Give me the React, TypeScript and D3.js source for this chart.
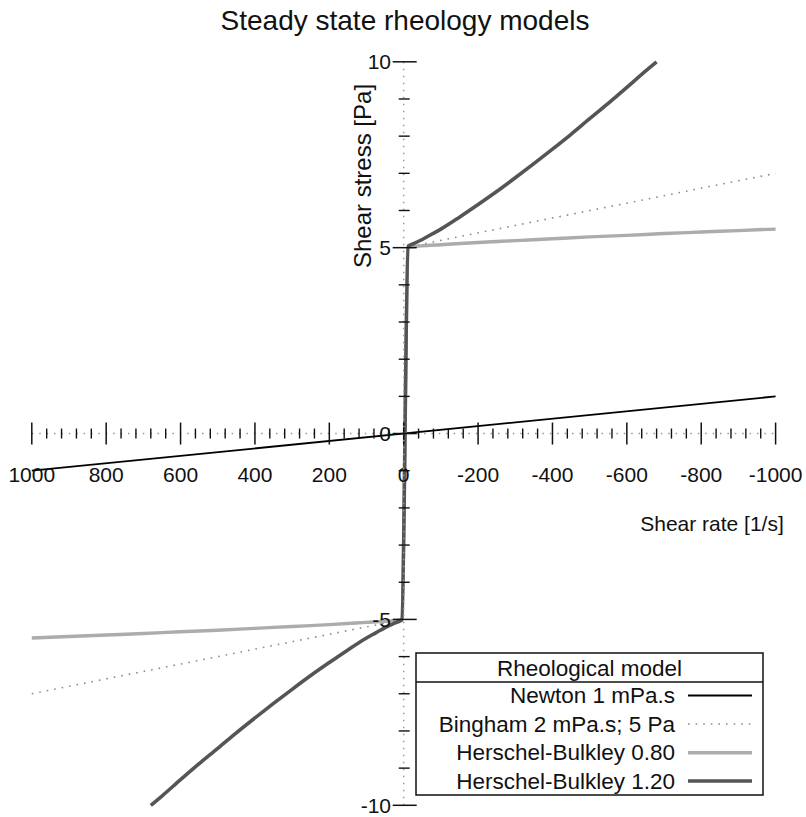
import React from "react";
import * as d3 from "d3";

// ---- data ----
const title = "Steady state rheology models";
const xLabel = "Shear rate [1/s]";
const yLabel = "Shear stress [Pa]";
const legendTitle = "Rheological model";

const xMajorTicks = [1000, 800, 600, 400, 200, 0, -200, -400, -600, -800, -1000];
const yMajorTicks = [-10, -5, 0, 5, 10];

// Newton 1 mPa.s
const newtonRate = [1000, -1000];
const newtonStress = [-1, 1];

// Bingham 2 mPa.s; 5 Pa
const binghamRate = [1000, 5, -12, -1000];
const binghamStress = [-7, -5.01, 5.02, 7];

// Herschel-Bulkley 0.80
const hb08Rate = [1000, 900, 800, 700, 600, 500, 400, 300, 200, 100, 50, 5, -12, -50, -100, -200, -300, -400, -500, -600, -700, -800, -900, -1000];
const hb08Stress = [-5.5, -5.46, -5.42, -5.38, -5.33, -5.29, -5.24, -5.19, -5.14, -5.08, -5.05, -5.01, 5.01, 5.05, 5.08, 5.14, 5.19, 5.24, 5.29, 5.33, 5.38, 5.42, 5.46, 5.5];

// Herschel-Bulkley 1.20
const hb12Rate = [
  680, 650, 600, 550, 500, 450, 400, 350, 300, 250, 200, 150, 100, 75, 50, 25, 5,
  -12, -25, -50, -75, -100, -150, -200, -250, -300, -350, -400, -450, -500, -550, -600, -650, -680,
];
const hb12Stress = [
  -10, -9.75, -9.31, -8.88, -8.47, -8.05, -7.65, -7.26, -6.88, -6.51, -6.16, -5.82, -5.5, -5.36, -5.22, -5.1, -5.01,
  5.04, 5.1, 5.22, 5.36, 5.5, 5.82, 6.16, 6.51, 6.88, 7.26, 7.65, 8.05, 8.47, 8.88, 9.31, 9.75, 10,
];

const seriesNames = ["Newton 1 mPa.s", "Bingham 2 mPa.s; 5 Pa", "Herschel-Bulkley 0.80", "Herschel-Bulkley 1.20"];

const FONT = "'Liberation Sans', Arial, Helvetica, sans-serif";

export default function App() {
  const W = 806;
  const H = 817;
  const x = d3.scaleLinear().domain([1000, -1000]).range([31.8, 775.6]);
  const y = d3.scaleLinear().domain([-10, 10]).range([805.3, 61.8]);
  const x0 = x(0);
  const y0 = y(0);

  const line = d3
    .line<[number, number]>()
    .x((d) => x(d[0]))
    .y((d) => y(d[1]))
    .curve(d3.curveMonotoneX);
  const straight = d3
    .line<[number, number]>()
    .x((d) => x(d[0]))
    .y((d) => y(d[1]));
  const zip = (a: number[], b: number[]) => a.map((v, i) => [v, b[i]] as [number, number]);

  const styles = [
    { stroke: "#000000", width: 1.8, dash: undefined as string | undefined },
    { stroke: "#8c8c8c", width: 1.6, dash: "1.6 6" },
    { stroke: "#acacac", width: 3.4, dash: undefined },
    { stroke: "#555555", width: 3.6, dash: undefined },
  ];
  const series = [
    zip(newtonRate, newtonStress),
    zip(binghamRate, binghamStress),
    zip(hb08Rate, hb08Stress),
    zip(hb12Rate, hb12Stress),
  ];

  const xMinor = d3.range(-1000, 1000.1, 40).filter((v) => Math.abs(v % 200) > 1e-6);
  const yMinor = d3.range(-10, 10.1, 1).filter((v) => Math.abs(v % 5) > 1e-6);

  // legend geometry
  const lg = { x0: 416, x1: 763, y0: 653, sep: 682, y1: 795 };
  const rowY = [695.5, 724, 752.7, 781];

  return (
    <svg
      width={W}
      height={H}
      style={{ position: "absolute", left: 0, top: 0, background: "#fff" }}
      fontFamily={FONT}
    >
      <rect x={0} y={0} width={W} height={H} fill="#fff" />
      <text x={405} y={20} textAnchor="middle" dominantBaseline="central" fontSize={28} fill="#111">
        {title}
      </text>

      {/* curves */}
      {series.map((s, i) => (
        <path
          key={i}
          d={(i < 2 ? straight(s) : line(s)) || ""}
          fill="none"
          stroke={styles[i].stroke}
          strokeWidth={styles[i].width}
          strokeDasharray={styles[i].dash}
          strokeLinejoin="round"
        />
      ))}

      {/* x axis */}
      <line x1={x(1000)} x2={x(-1000)} y1={y0} y2={y0} stroke="#999" strokeWidth={1.5} strokeDasharray="1.5 5.9" />
      {xMinor.map((v) => (
        <line key={"xm" + v} x1={x(v)} x2={x(v)} y1={y0 - 5} y2={y0 + 5} stroke="#111" strokeWidth={1.4} />
      ))}
      {xMajorTicks.map((v) => (
        <line key={"xM" + v} x1={x(v)} x2={x(v)} y1={y0 - 11} y2={y0 + 11} stroke="#111" strokeWidth={1.5} />
      ))}
      {xMajorTicks.map((v) => (
        <text key={"xl" + v} x={x(v)} y={474} textAnchor="middle" dominantBaseline="central" fontSize={21} fill="#111">
          {String(v)}
        </text>
      ))}
      <text x={712} y={523} textAnchor="middle" dominantBaseline="central" fontSize={21} fill="#111">
        {xLabel}
      </text>

      {/* y axis */}
      <line x1={x0} x2={x0} y1={y(10)} y2={y(-10)} stroke="#999" strokeWidth={1.5} strokeDasharray="1.5 5.5" />
      {yMinor.map((v) => (
        <line key={"ym" + v} x1={x0 - 5} x2={x0 + 6} y1={y(v)} y2={y(v)} stroke="#111" strokeWidth={1.4} />
      ))}
      {yMajorTicks.map((v) => (
        <line key={"yM" + v} x1={x0 - 11} x2={x0 + 13} y1={y(v)} y2={y(v)} stroke="#111" strokeWidth={1.5} />
      ))}
      {yMajorTicks.map((v) => (
        <text key={"yl" + v} x={391} y={y(v)} textAnchor="end" dominantBaseline="central" fontSize={21} fill="#111">
          {String(v)}
        </text>
      ))}
      <text
        transform={`translate(362,176) rotate(-90)`}
        textAnchor="middle"
        dominantBaseline="central"
        fontSize={24}
        fill="#111"
      >
        {yLabel}
      </text>

      {/* legend */}
      <rect x={lg.x0} y={lg.y0} width={lg.x1 - lg.x0} height={lg.y1 - lg.y0} fill="#fff" stroke="#111" strokeWidth={1.5} />
      <line x1={lg.x0} x2={lg.x1} y1={lg.sep} y2={lg.sep} stroke="#111" strokeWidth={1.5} />
      <text x={(lg.x0 + lg.x1) / 2} y={668} textAnchor="middle" dominantBaseline="central" fontSize={22.5} fill="#111">
        {legendTitle}
      </text>
      {seriesNames.map((n, i) => (
        <g key={"lg" + i}>
          <text x={675} y={rowY[i]} textAnchor="end" dominantBaseline="central" fontSize={22.5} fill="#111">
            {n}
          </text>
          <line
            x1={688}
            x2={752}
            y1={rowY[i]}
            y2={rowY[i]}
            stroke={styles[i].stroke}
            strokeWidth={styles[i].width}
            strokeDasharray={styles[i].dash}
          />
        </g>
      ))}
    </svg>
  );
}
